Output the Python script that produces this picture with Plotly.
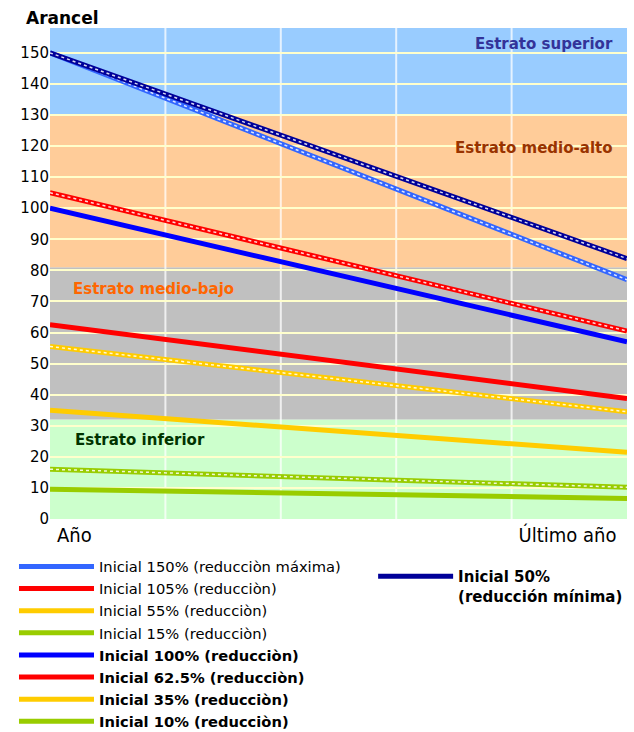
import plotly.graph_objects as go

# ---- data ----
x_pos = [0, 5]
tick_vals = [0, 4]
tick_text = ["Año", "Último año"]
y_ticks = list(range(0, 151, 10))

s150 = [150, 77]
s105 = [105, 60.5]
s55 = [55.5, 34.5]
s15 = [16, 10.2]
s100 = [100, 57]
s62 = [62.5, 38.8]
s35 = [35, 21.5]
s10 = [9.6, 6.6]
s50 = [150, 83.8]

band_edges = [0, 32, 81, 130, 158]
band_colors = ["#CCFFCC", "#C0C0C0", "#FFCC99", "#99CCFF"]
band_names = ["Estrato inferior", "Estrato medio-bajo", "Estrato medio-alto", "Estrato superior"]
band_label_y = [25.5, 74, 119.5, 153]
band_label_x = [0.2, 0.18, 4.9, 4.9]
band_label_col = ["#003300", "#FF6600", "#993300", "#333399"]
band_label_anchor = ["left", "left", "right", "right"]

fig = go.Figure()

pattern_series = [
    ("Inicial 150% (reducciòn máxima)", s150, "#3366FF", "legend"),
    ("Inicial 105% (reducciòn)", s105, "#FF0000", "legend"),
    ("Inicial 55% (reducciòn)", s55, "#FFCC00", "legend"),
    ("Inicial 15% (reducciòn)", s15, "#99CC00", "legend"),
]
solid_series = [
    ("<b>Inicial 100% (reducciòn)</b>", s100, "#0000FF"),
    ("<b>Inicial 62.5% (reducciòn)</b>", s62, "#FF0000"),
    ("<b>Inicial 35% (reducciòn)</b>", s35, "#FFCC00"),
    ("<b>Inicial 10% (reducciòn)</b>", s10, "#99CC00"),
]

def add_pattern(name, ys, color, legend):
    fig.add_trace(go.Scatter(x=x_pos, y=ys, mode="lines", name=name,
                             line=dict(color=color, width=5), legend=legend))
    fig.add_trace(go.Scatter(x=x_pos, y=ys, mode="lines", showlegend=False,
                             hoverinfo="skip",
                             line=dict(color="rgba(255,255,255,0.85)", width=1.5, dash="dot")))

for name, ys, color, lg in pattern_series:
    add_pattern(name, ys, color, lg)
for name, ys, color in solid_series:
    fig.add_trace(go.Scatter(x=x_pos, y=ys, mode="lines", name=name,
                             line=dict(color=color, width=5), legend="legend"))
add_pattern("<b>Inicial 50%<br>(reducción mínima)</b>", s50, "#000099", "legend2")

shapes = []
for i, col in enumerate(band_colors):
    shapes.append(dict(type="rect", xref="paper", yref="y", x0=0, x1=1,
                       y0=band_edges[i], y1=band_edges[i + 1],
                       fillcolor=col, line=dict(width=0), layer="below"))

annotations = []
for i, nm in enumerate(band_names):
    annotations.append(dict(x=band_label_x[i], y=band_label_y[i], xref="x", yref="y",
                            text="<b>" + nm + "</b>", showarrow=False,
                            xanchor=band_label_anchor[i],
                            font=dict(family="DejaVu Sans", size=15, color=band_label_col[i])))
annotations.append(dict(x=(24 - 50) / 577, y=1 + (28 - 18) / 491, xref="paper", yref="paper",
                        text="<b>Arancel</b>", showarrow=False, xanchor="left", yanchor="middle",
                        font=dict(family="DejaVu Sans", size=17, color="#000")))

fig.update_layout(
    width=634, height=732,
    margin=dict(l=50, r=7, t=28, b=213, autoexpand=False),
    paper_bgcolor="white", plot_bgcolor="white",
    shapes=shapes,
    annotations=annotations,
    xaxis=dict(range=[0, 5], tickvals=tick_vals, ticktext=tick_text,
               ticklabelposition="outside right", ticklabelshift=7, ticklabelstandoff=2,
               automargin=False,
               showgrid=False, zeroline=False, showline=False, ticks="",
               tickfont=dict(family="Liberation Sans Narrow, DejaVu Sans Condensed", size=20, color="#000")),
    yaxis=dict(range=[0, 158], tickvals=y_ticks, showgrid=True, gridcolor="#FFFFCC", gridwidth=1.5,
               zeroline=False, showline=False, ticks="", automargin=False,
               tickfont=dict(family="DejaVu Sans", size=15, color="#000")),
    legend=dict(x=-0.0624, y=-0.064, xanchor="left", yanchor="top", orientation="v",
                bgcolor="rgba(0,0,0,0)", itemwidth=75,
                font=dict(family="DejaVu Sans", size=14.7, color="#000"), tracegroupgap=0),
    legend2=dict(x=0.56, y=-0.0835, xanchor="left", yanchor="top", valign="top",
                 bgcolor="rgba(0,0,0,0)", itemwidth=75,
                 font=dict(family="DejaVu Sans", size=15, color="#000")),
)

# vertical grid lines
for gx in [1, 2, 3, 4]:
    fig.add_shape(type="line", xref="x", yref="paper", x0=gx, x1=gx, y0=0, y1=1,
                  line=dict(color="rgba(255,255,255,0.75)", width=2), layer="below")

fig.write_html("out.html", config={"displayModeBar": False},
               post_script="document.body.style.margin='0px';")
